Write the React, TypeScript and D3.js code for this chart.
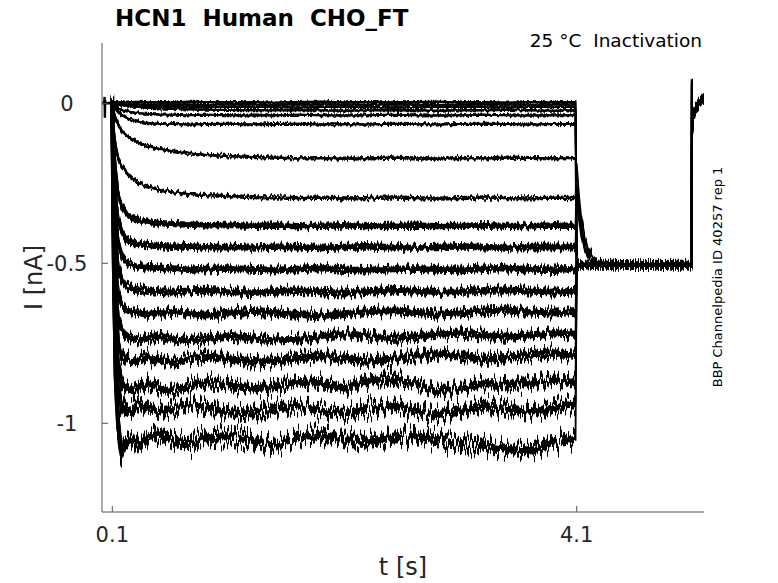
import * as d3 from 'd3';

// time grids (s)
const tPre = [0.011, 0.03, 0.034, 0.036, 0.038, 0.04, 0.07, 0.1];
const tStep = [
  0.1, 0.115, 0.13, 0.15, 0.18, 0.22, 0.27, 0.33, 0.4, 0.5, 0.62, 0.75, 0.9,
  1.1, 1.3, 1.5, 1.7, 1.9, 2.1, 2.3, 2.5, 2.7, 2.9, 3.1, 3.3, 3.5, 3.7, 3.9, 4.09,
];
const tPost = [4.1, 4.12, 4.14, 4.17, 4.2, 4.25, 4.3, 4.4, 4.6, 4.8, 5.0, 5.09];
const tEnd = [5.09, 5.092, 5.095, 5.1, 5.12, 5.15, 5.18, 5.21];

// current (nA)
const preShape = [0.001, -0.001, 0.02, -0.045, 0.01, 0, 0.001, 0];
const postBase = [-0.505, -0.506, -0.504, -0.505, -0.503, -0.506, -0.505, -0.504, -0.506, -0.505, -0.504, -0.505];
const tailA = [-0.2, -0.29, -0.36, -0.42, -0.455, -0.485, -0.498, -0.504, -0.505, -0.504, -0.506, -0.505];
const tailB = [-0.24, -0.32, -0.385, -0.44, -0.47, -0.492, -0.5, -0.505, -0.504, -0.506, -0.505, -0.504];
const tailC = [-0.29, -0.36, -0.415, -0.46, -0.482, -0.497, -0.503, -0.505, -0.506, -0.505, -0.504, -0.505];
const endShape = [-0.505, 0.065, -0.08, -0.05, -0.02, 0.0, 0.012, 0.015];

const s01 = [0, .003, .004, .003, .004, .002, .004, .005, .003, .004, .003, .005, .004, .003, .004, .002, .004, .005, .003, .004, .003, .004, .005, .003, .004, .002, .004, .003, .004];
const s02 = [0, -.002, -.003, -.004, -.003, -.005, -.004, -.003, -.005, -.004, -.003, -.004, -.005, -.003, -.004, -.005, -.003, -.004, -.004, -.005, -.003, -.004, -.005, -.004, -.003, -.004, -.005, -.004, -.004];
const s03 = [0, -.001, -.001, -.002, -.003, -.004, -.005, -.006, -.008, -.009, -.010, -.011, -.011, -.012, -.012, -.012, -.013, -.012, -.011, -.012, -.013, -.012, -.012, -.011, -.012, -.013, -.012, -.012, -.012];
const s04 = [0, -.001, -.002, -.003, -.005, -.007, -.010, -.012, -.014, -.016, -.018, -.019, -.020, -.021, -.022, -.022, -.021, -.022, -.023, -.022, -.021, -.022, -.023, -.022, -.022, -.021, -.022, -.023, -.022];
const s05 = [0, -.006, -.011, -.016, -.021, -.025, -.028, -.031, -.033, -.035, -.036, -.037, -.036, -.037, -.038, -.037, -.036, -.037, -.038, -.037, -.036, -.037, -.038, -.037, -.036, -.037, -.038, -.037, -.037];
const s06 = [0, -.009, -.017, -.026, -.036, -.045, -.053, -.058, -.062, -.064, -.065, -.066, -.065, -.064, -.066, -.065, -.064, -.066, -.065, -.066, -.064, -.065, -.066, -.065, -.064, -.065, -.066, -.065, -.065];
const s07 = [0, -.03, -.05, -.065, -.085, -.1, -.113, -.124, -.133, -.142, -.15, -.156, -.161, -.165, -.168, -.17, -.172, -.171, -.173, -.172, -.17, -.172, -.173, -.171, -.172, -.17, -.171, -.172, -.171];
const s08 = [0, -.09, -.14, -.17, -.195, -.215, -.235, -.25, -.26, -.27, -.278, -.283, -.287, -.29, -.293, -.294, -.296, -.295, -.297, -.296, -.294, -.296, -.298, -.296, -.294, -.296, -.297, -.295, -.296];
const s09 = [0, -.14, -.22, -.28, -.32, -.345, -.358, -.365, -.37, -.374, -.377, -.379, -.381, -.38, -.383, -.382, -.384, -.383, -.381, -.384, -.383, -.382, -.384, -.383, -.381, -.383, -.384, -.382, -.383];
const s10 = [0, -.18, -.29, -.36, -.4, -.425, -.435, -.44, -.443, -.446, -.448, -.447, -.45, -.449, -.451, -.448, -.45, -.452, -.449, -.447, -.45, -.451, -.449, -.447, -.45, -.451, -.449, -.448, -.449];
const s11 = [0, -.22, -.35, -.43, -.475, -.495, -.505, -.51, -.512, -.514, -.516, -.52, -.518, -.516, -.519, -.521, -.518, -.515, -.52, -.522, -.518, -.516, -.519, -.521, -.517, -.515, -.519, -.52, -.518];
const s12 = [0, -.27, -.42, -.51, -.55, -.57, -.578, -.582, -.585, -.588, -.59, -.586, -.584, -.589, -.592, -.588, -.585, -.59, -.593, -.588, -.584, -.587, -.591, -.589, -.585, -.583, -.587, -.59, -.587];
const s13 = [0, -.32, -.5, -.59, -.63, -.645, -.65, -.655, -.66, -.655, -.65, -.657, -.662, -.656, -.65, -.654, -.66, -.664, -.657, -.651, -.648, -.653, -.659, -.655, -.649, -.646, -.652, -.656, -.65];
const s14 = [0, -.37, -.57, -.67, -.71, -.725, -.735, -.74, -.733, -.728, -.736, -.742, -.735, -.728, -.733, -.74, -.737, -.729, -.72, -.726, -.735, -.73, -.722, -.718, -.725, -.731, -.724, -.717, -.722];
const s15 = [0, -.41, -.63, -.74, -.785, -.8, -.808, -.8, -.792, -.803, -.81, -.8, -.79, -.798, -.808, -.805, -.795, -.788, -.797, -.806, -.8, -.79, -.783, -.79, -.8, -.795, -.786, -.78, -.788];
const s16 = [0, -.45, -.7, -.82, -.87, -.89, -.9, -.885, -.875, -.89, -.9, -.885, -.872, -.88, -.893, -.885, -.87, -.875, -.89, -.868, -.86, -.875, -.9, -.89, -.875, -.88, -.872, -.865, -.87];
const s17 = [0, -.5, -.77, -.9, -.945, -.96, -.955, -.94, -.95, -.965, -.955, -.94, -.95, -.965, -.97, -.955, -.945, -.96, -.97, -.955, -.945, -.96, -.975, -.96, -.945, -.955, -.965, -.95, -.94];
const s18 = [0, -.55, -.85, -1.0, -1.09, -1.06, -1.05, -1.07, -1.045, -1.035, -1.05, -1.065, -1.045, -1.04, -1.055, -1.07, -1.045, -1.035, -1.05, -1.06, -1.045, -1.04, -1.05, -1.065, -1.07, -1.08, -1.085, -1.06, -1.045];

const stepTraces = [s01, s02, s03, s04, s05, s06, s07, s08, s09, s10, s11, s12, s13, s14, s15, s16, s17, s18];
const tailFor: Record<number, number[]> = { 7: tailA, 8: tailB, 9: tailC };

const xTicks = [0.1, 4.1];
const xTickLabels = ['0.1', '4.1'];
const yTicks = [0, -0.5, -1];
const yTickLabels = ['0', '-0.5', '-1'];

const W = 778;
const H = 583;
const FONT = 'DejaVu Sans, sans-serif';
// recording-noise texture, per sweep (px of displacement)
const noiseScale = [5, 5, 5, 6, 6, 7, 9, 11, 13, 15, 17, 19, 22, 25, 29, 34, 39, 46];
const COPIES = [0, 1, 2];

export default function App() {
  const x = d3.scaleLinear().domain([0.0113, 5.1965]).range([102, 704]);
  const y = d3.scaleLinear().domain([-1.2772, 0.1884]).range([512, 43]);
  const line = d3
    .line<[number, number]>()
    .x((d) => x(d[0]))
    .y((d) => y(d[1]));

  const zip = (ts: number[], vs: number[]) =>
    ts.map((t, k) => [t, vs[k]] as [number, number]);

  const pre = line(zip(tPre, preShape)) || '';
  const steps = stepTraces.map((vals) => line(zip(tStep, vals)) || '');
  const posts = stepTraces.map((vals, i) => {
    const post = tailFor[i] || postBase;
    return (
      line([[tStep[tStep.length - 1], vals[vals.length - 1]], ...zip(tPost, post), ...zip(tEnd, endShape)]) || ''
    );
  });

  const axisColor = '#555';
  const textColor = '#262626';

  const noiseFilter = (id: string, scale: number, seed: number, freq = 0.3, grow = 0) => (
    <filter
      key={id}
      id={id}
      filterUnits="userSpaceOnUse"
      x={0}
      y={0}
      width={W}
      height={H}
      colorInterpolationFilters="sRGB"
    >
      <feTurbulence type="fractalNoise" baseFrequency={`${freq} 0`} numOctaves={3} seed={seed} result="t" />
      <feColorMatrix
        in="t"
        type="matrix"
        values="0 0 0 0 0.5  0 1 0 0 0  0 0 0 0 0  0 0 0 0 1"
        result="m"
      />
      <feDisplacementMap in="SourceGraphic" in2="m" scale={scale} xChannelSelector="R" yChannelSelector="G" result="d" />
      {grow > 0 && <feMorphology in="d" operator="dilate" radius={`0 ${grow}`} />}
    </filter>
  );

  return (
    <svg
      width={W}
      height={H}
      style={{ position: 'absolute', left: 0, top: 0, background: '#fff' }}
      fontFamily={FONT}
    >
      <defs>
        <clipPath id="plot">
          <rect x={102} y={43} width={602} height={469} />
        </clipPath>
        {noiseScale.map((s, i) =>
          COPIES.map((c) => noiseFilter(`n${i}_${c}`, s, i * 13 + c * 101 + 3, 0.3, s > 12 ? 1 : 0))
        )}
        {noiseFilter('npre', 3, 91)}
        {stepTraces.map((_, i) => noiseFilter(`np${i}`, 18, i * 11 + 5, 0.4, 1))}
      </defs>

      <g clipPath="url(#plot)" fill="none" stroke="#000">
        <path d={pre} filter="url(#npre)" strokeWidth={2.4} />
        {steps.map((d, i) =>
          COPIES.map((c) => (
            <path
              key={`s${i}_${c}`}
              d={d}
              strokeWidth={1.7 + noiseScale[i] * 0.05}
              filter={`url(#n${i}_${c})`}
            />
          ))
        )}
        {posts.map((d, i) => (
          <path key={`p${i}`} d={d} strokeWidth={1.8} filter={`url(#np${i})`} />
        ))}
      </g>

      {/* axes */}
      <line x1={102} x2={102} y1={43} y2={512} stroke={axisColor} strokeWidth={1} />
      <line x1={102} x2={704} y1={512} y2={512} stroke={axisColor} strokeWidth={1} />
      {xTicks.map((t, i) => (
        <g key={`xt${i}`}>
          <line x1={x(t)} x2={x(t)} y1={512} y2={506} stroke={axisColor} />
          <text x={x(t)} y={542} textAnchor="middle" fontSize={21} fill={textColor}>
            {xTickLabels[i]}
          </text>
        </g>
      ))}
      {yTicks.map((v, i) => (
        <g key={`yt${i}`}>
          <line x1={102} x2={108} y1={y(v)} y2={y(v)} stroke={axisColor} />
          <text x={67} y={y(v) + 8} textAnchor="middle" fontSize={21} fill={textColor}>
            {yTickLabels[i]}
          </text>
        </g>
      ))}

      <text x={403} y={575} textAnchor="middle" fontSize={24} fill={textColor}>
        t [s]
      </text>
      <text
        transform="translate(42,277.5) rotate(-90)"
        textAnchor="middle"
        fontSize={24}
        fill={textColor}
      >
        I [nA]
      </text>

      <text x={115} y={26} fontSize={23} fontWeight="bold" fill="#000" style={{ whiteSpace: 'pre' }}>
        {'HCN1  Human  CHO_FT'}
      </text>
      <text x={702} y={47} textAnchor="end" fontSize={18.5} fill="#000" style={{ whiteSpace: 'pre' }}>
        {'25 °C  Inactivation'}
      </text>
      <text
        transform="translate(722,277) rotate(-90)"
        textAnchor="middle"
        fontSize={13}
        fill="#000"
      >
        BBP Channelpedia ID 40257 rep 1
      </text>
    </svg>
  );
}
